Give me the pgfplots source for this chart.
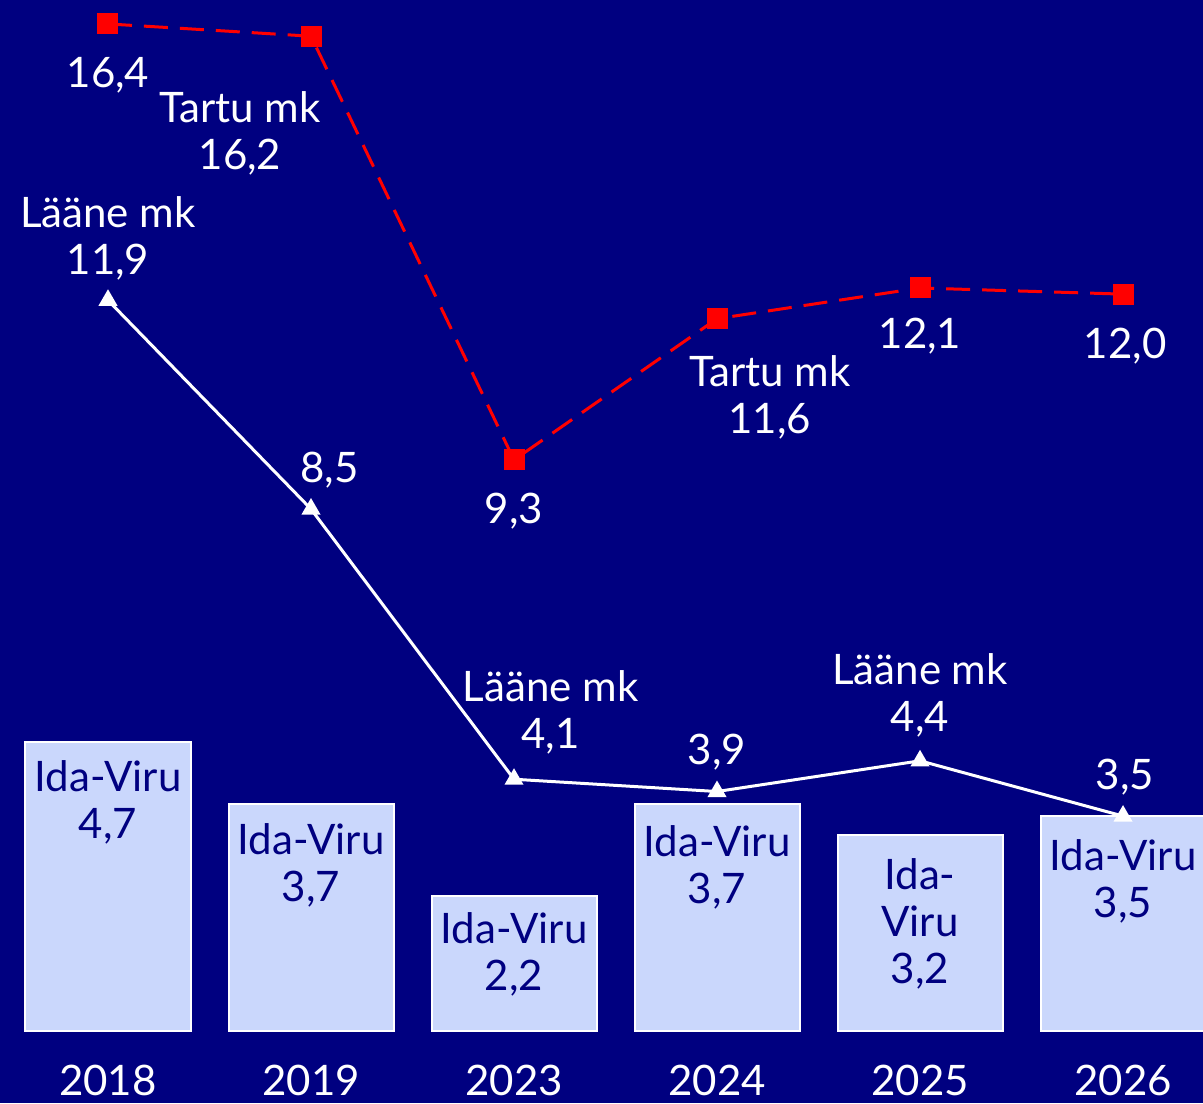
\documentclass[border=0pt]{standalone}
\usepackage{pgfplots}
\pgfplotsset{compat=1.18}
\usepackage{fontspec}
\setmainfont{Lato}
\usetikzlibrary{backgrounds}

\definecolor{navy}{RGB}{0,0,128}
\definecolor{barfill}{RGB}{202,215,252}
\definecolor{tartured}{RGB}{255,0,0}

\begin{document}
\begin{tikzpicture}[font=\fontsize{21}{23.5}\selectfont,
    wl/.style={white, align=center, inner sep=0pt},
    bl/.style={navy, align=center, inner sep=0pt}]
\begin{axis}[
    at={(0,0)}, anchor=south west,
    scale only axis,
    width=601.5pt, height=515.5pt,
    xmin=-0.532, xmax=5.394,
    ymin=0, ymax=16.79,
    axis line style={draw=none},
    major tick length=0pt,
    xtick={0,1,2,3,4,5},
    xticklabels={2018,2019,2023,2024,2025,2026},
    xticklabel style={white, anchor=north, inner sep=0pt, yshift=-17pt},
    ytick=\empty,
    clip=false,
]
% Ida-Viru
\addplot[ybar, bar width=82.5pt, fill=barfill, draw=white, line width=1pt]
    coordinates {(0,4.7) (1,3.7) (2,2.2) (3,3.7) (4,3.2) (5,3.5)};
% Tartu mk
\addplot[tartured, line width=1.5pt, dash pattern=on 12pt off 6pt,
    mark=square*, mark size=4.5pt, mark options={solid}]
    coordinates {(0,16.4) (1,16.2) (2,9.3) (3,11.6) (4,12.1) (5,12.0)};
% Lääne mk
\addplot[white, line width=1.5pt, mark=triangle*, mark size=4pt]
    coordinates {(0,11.9) (1,8.5) (2,4.1) (3,3.9) (4,4.4) (5,3.5)};

% Tartu mk labels
\node[wl] at (axis cs:0,15.57) {16,4};
\node[wl] at (axis cs:0.65,14.61) {Tartu mk\\16,2};
\node[wl] at (axis cs:2,8.47) {9,3};
\node[wl] at (axis cs:3.26,10.32) {Tartu mk\\11,6};
\node[wl] at (axis cs:4,11.32) {12,1};
\node[wl] at (axis cs:5.01,11.15) {12,0};
% Lääne mk labels
\node[wl] at (axis cs:0,12.91) {Lääne mk\\11,9};
\node[wl] at (axis cs:1.09,9.14) {8,5};
\node[wl] at (axis cs:2.18,5.19) {Lääne mk\\4,1};
\node[wl] at (axis cs:3,4.54) {3,9};
\node[wl] at (axis cs:4,5.46) {Lääne mk\\4,4};
\node[wl] at (axis cs:5.01,4.14) {3,5};
% Ida-Viru labels
\node[bl] at (axis cs:0,3.72) {Ida-Viru\\4,7};
\node[bl] at (axis cs:1,2.69) {Ida-Viru\\3,7};
\node[bl] at (axis cs:2,1.25) {Ida-Viru\\2,2};
\node[bl] at (axis cs:3,2.66) {Ida-Viru\\3,7};
\node[bl] at (axis cs:4,1.74) {Ida-\\Viru\\3,2};
\node[bl] at (axis cs:5,2.43) {Ida-Viru\\3,5};
\end{axis}
\begin{scope}[on background layer]
\fill[navy] (0,-36pt) rectangle (601.5pt,515.5pt);
\end{scope}
\pgfresetboundingbox
\path[use as bounding box] (0,-36pt) rectangle (601.5pt,515.5pt);
\end{tikzpicture}
\end{document}
